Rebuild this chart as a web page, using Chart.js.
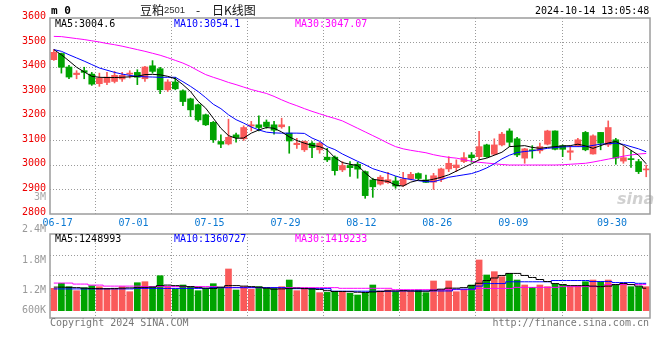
<!DOCTYPE html>
<html><head><meta charset="utf-8">
<script src="https://cdn.jsdelivr.net/npm/chart.js@4.4.1/dist/chart.umd.min.js"></script>
<style>
html,body{margin:0;padding:0;background:#fff;}
#wrap{position:relative;width:660px;height:360px;overflow:hidden;font-family:"DejaVu Sans Mono",monospace;}
canvas{position:absolute;left:0;}
#c1{top:0;}
#c2{top:222px;}
.t{position:absolute;white-space:nowrap;font-family:"DejaVu Sans Mono",monospace;font-size:10px;line-height:12px;}
</style></head><body>
<div id="wrap">
<canvas id="c1" width="660" height="232" style="width:660px;height:232px"></canvas>
<canvas id="c2" width="660" height="138" style="width:660px;height:138px"></canvas>
<div class="t" style="left:51px;top:5px;font-weight:bold;font-size:11px;">m 0</div>
<div class="t" style="left:140px;top:3px;font-family:'Noto Sans CJK SC';font-size:12px;line-height:14px;color:#111;">豆粕</div>
<div class="t" style="left:164px;top:4px;font-family:'Liberation Sans';font-size:9.5px;line-height:12px;color:#333;">2501</div>
<div class="t" style="left:196px;top:3px;font-family:'Noto Sans CJK SC';font-size:12px;line-height:14px;color:#111;">-</div>
<div class="t" style="left:212px;top:3px;font-family:'Noto Sans CJK SC';font-size:12px;line-height:14px;color:#111;">日K线图</div>
<div class="t" style="left:535px;top:5px;color:#000;">2024-10-14 13:05:48</div>
<div class="t" style="left:55px;top:18px;color:#000;">MA5:3004.6</div>
<div class="t" style="left:174px;top:18px;color:#0000ff;">MA10:3054.1</div>
<div class="t" style="left:295px;top:18px;color:#ff00ff;">MA30:3047.07</div>
<div class="t" style="left:55px;top:233px;color:#000;">MA5:1248993</div>
<div class="t" style="left:174px;top:233px;color:#0000ff;">MA10:1360727</div>
<div class="t" style="left:295px;top:233px;color:#ff00ff;">MA30:1419233</div>
<div class="t" style="left:50px;top:317px;color:#777;">Copyright 2024 SINA.COM</div>
<div class="t" style="right:11px;top:317px;color:#777;">http://finance.sina.com.cn</div>
<div class="t" style="left:617px;top:190px;font-family:'DejaVu Sans';font-weight:bold;font-style:italic;font-size:16px;line-height:18px;color:rgba(150,150,150,0.45);">sina</div>
</div>
<script>
const dates = ['06-14','06-17','06-18','06-19','06-20','06-21','06-24','06-25','06-26','06-27','06-28',
'07-01','07-02','07-03','07-04','07-05','07-08','07-09','07-10','07-11','07-12',
'07-15','07-16','07-17','07-18','07-19','07-22','07-23','07-24','07-25','07-26',
'07-29','07-30','07-31','08-01','08-02','08-05','08-06','08-07','08-08','08-09',
'08-12','08-13','08-14','08-15','08-16','08-19','08-20','08-21','08-22','08-23',
'08-26','08-27','08-28','08-29','08-30','09-02','09-03','09-04','09-05','09-06',
'09-09','09-10','09-11','09-12','09-13','09-18','09-19','09-20','09-23','09-24','09-25','09-26','09-27',
'09-30','10-08','10-09','10-10','10-11'];
const tickDates = ['06-17','07-01','07-15','07-29','08-12','08-26','09-09','09-30'];

const opens  = [3430,3455,3400,3369,3385,3371,3332,3337,3341,3351,3371,3378,3352,3405,3393,3307,3339,3303,3270,3246,
                3205,3174,3096,3086,3123,3107,3159,3164,3175,3164,3156,3130,3083,3062,3089,3062,3032,3032,2980,2998,
                3003,2973,2939,2922,2928,2935,2918,2943,2965,2939,2930,2943,2984,2989,3014,3041,3034,3082,3044,3082,
                3139,3107,3028,3062,3058,3085,3139,3079,3052,3079,3133,3045,3133,3082,3103,3016,3025,3014,2980];
const closes = [3460,3399,3359,3375,3378,3330,3355,3359,3366,3366,3375,3358,3400,3382,3307,3339,3311,3259,3225,3184,
                3164,3103,3085,3113,3112,3153,3164,3153,3157,3142,3164,3098,3089,3096,3071,3089,3021,2977,2998,2989,
                2983,2875,2911,2950,2940,2914,2943,2962,2945,2929,2956,2984,3007,3000,3030,3030,3075,3034,3082,3126,
                3093,3041,3066,3058,3075,3139,3064,3064,3058,3103,3062,3119,3089,3153,3028,3030,3022,2973,2983];
const highs  = [3471,3457,3407,3385,3399,3378,3375,3378,3382,3378,3385,3389,3403,3426,3399,3348,3358,3307,3273,3249,
                3208,3178,3123,3187,3130,3160,3178,3201,3184,3178,3191,3157,3109,3098,3096,3093,3068,3037,3014,3014,
                3011,2976,2946,2957,2970,2953,2970,2970,2968,2959,2966,2987,3034,3021,3051,3051,3137,3085,3107,3133,
                3148,3113,3068,3079,3089,3142,3139,3082,3079,3109,3137,3123,3133,3180,3109,3075,3058,3023,3000];
const lows   = [3427,3375,3352,3352,3352,3325,3321,3328,3335,3341,3355,3328,3341,3375,3291,3300,3307,3242,3198,3178,
                3161,3092,3071,3082,3093,3100,3139,3139,3150,3126,3150,3048,3068,3055,3030,3048,3014,2959,2973,2953,
                2946,2864,2868,2918,2925,2905,2913,2939,2940,2929,2900,2932,2973,2973,3010,3011,3021,3031,3041,3078,
                3075,3034,3007,3028,3048,3082,3062,3034,3021,3075,3058,3044,3062,3075,3003,3007,2990,2965,2952];

const ma5  = [3471,3450,3425,3399,3380,3362,3358,3357,3357,3358,3360,3362,3369,3370,3368,3362,3352,3328,3300,3260,
              3232,3191,3150,3120,3109,3110,3130,3143,3153,3150,3135,3115,3100,3089,3080,3075,3062,3030,3010,3003,
              2998,2968,2942,2937,2933,2918,2914,2930,2938,2936,2942,2950,2960,2975,2990,3005,3021,3028,3040,3052,
              3075,3077,3079,3072,3068,3072,3075,3078,3079,3085,3078,3068,3079,3090,3096,3080,3060,3040,3005];
const ma10 = [3471,3464,3450,3437,3424,3410,3396,3387,3378,3371,3366,3362,3360,3359,3358,3358,3358,3340,3321,3300,
              3275,3248,3230,3205,3185,3171,3155,3143,3134,3131,3130,3130,3130,3129,3110,3097,3075,3063,3045,3030,
              3015,3001,2985,2975,2966,2955,2946,2941,2936,2932,2932,2940,2950,2955,2960,2965,2975,2988,3005,3025,
              3040,3051,3055,3058,3063,3068,3071,3074,3075,3075,3075,3080,3085,3087,3089,3084,3075,3066,3054];
const ma30 = [3525,3524,3520,3516,3512,3507,3502,3496,3491,3485,3478,3471,3464,3456,3448,3438,3427,3416,3402,3385,
              3369,3358,3348,3337,3328,3318,3308,3300,3292,3280,3266,3253,3242,3230,3219,3209,3199,3190,3180,3165,
              3150,3135,3120,3105,3089,3075,3066,3060,3055,3050,3042,3036,3031,3028,3022,3015,3011,3008,3005,3002,
              3000,3000,3000,3000,3000,3000,3000,3001,3003,3005,3007,3012,3018,3024,3030,3036,3041,3045,3047];

const volumes = [1247000,1346000,1279000,1200000,1259000,1298000,1279000,1233000,1233000,1279000,
                 1180000,1357000,1377000,1279000,1495000,1279000,1233000,1312000,1279000,1200000,
                 1247000,1338000,1247000,1627000,1214000,1279000,1227000,1279000,1259000,1247000,
                 1279000,1410000,1200000,1247000,1247000,1161000,1167000,1187000,1180000,1148000,
                 1115000,1148000,1312000,1194000,1214000,1180000,1194000,1194000,1214000,1161000,
                 1391000,1214000,1391000,1180000,1214000,1312000,1804000,1509000,1574000,1475000,
                 1542000,1410000,1312000,1266000,1312000,1279000,1325000,1312000,1279000,1292000,
                 1377000,1410000,1377000,1410000,1312000,1346000,1279000,1279000,1279000];
const volMa5 = [1270000,1270000,1265000,1260000,1250000,1245000,1240000,1240000,1245000,1250000,
                1255000,1260000,1265000,1270000,1300000,1310000,1300000,1290000,1280000,1265000,
                1250000,1245000,1270000,1300000,1300000,1290000,1280000,1270000,1250000,1230000,
                1235000,1245000,1250000,1245000,1235000,1225000,1200000,1185000,1185000,1180000,
                1170000,1165000,1175000,1185000,1195000,1195000,1200000,1195000,1190000,1190000,
                1210000,1230000,1250000,1250000,1260000,1300000,1346000,1400000,1450000,1500000,
                1540000,1540000,1500000,1460000,1420000,1380000,1340000,1320000,1300000,1300000,
                1300000,1290000,1280000,1290000,1320000,1340000,1320000,1290000,1249000];
const volMa10 = [1235000,1235000,1235000,1235000,1235000,1235000,1235000,1235000,1235000,1235000,
                 1235000,1245000,1245000,1245000,1245000,1245000,1245000,1245000,1245000,1245000,
                 1245000,1260000,1260000,1260000,1260000,1260000,1260000,1260000,1260000,1260000,
                 1260000,1240000,1240000,1240000,1240000,1240000,1240000,1190000,1190000,1190000,
                 1190000,1190000,1190000,1190000,1190000,1190000,1195000,1195000,1195000,1195000,
                 1195000,1195000,1195000,1230000,1230000,1230000,1290000,1340000,1340000,1340000,
                 1375000,1375000,1375000,1375000,1375000,1375000,1400000,1400000,1400000,1400000,
                 1400000,1380000,1380000,1380000,1360000,1360000,1360000,1345000,1345000];
const volMa30 = [1350000,1350000,1350000,1330000,1330000,1310000,1310000,1290000,1290000,1290000,
                 1290000,1290000,1280000,1280000,1280000,1280000,1280000,1280000,1280000,1280000,
                 1280000,1280000,1260000,1260000,1260000,1260000,1260000,1260000,1260000,1260000,
                 1260000,1260000,1260000,1260000,1260000,1260000,1260000,1260000,1247000,1247000,
                 1247000,1247000,1247000,1247000,1247000,1220000,1220000,1220000,1220000,1220000,
                 1220000,1220000,1220000,1220000,1220000,1220000,1245000,1245000,1245000,1245000,
                 1245000,1265000,1265000,1265000,1265000,1265000,1265000,1280000,1280000,1280000,
                 1280000,1280000,1280000,1320000,1320000,1320000,1320000,1320000,1320000];

const priceTicks = [2800,2900,3000,3100,3200,3300,3400,3500,3600];
const priceMarkTick = {value: 2860, label: '3M'};
const volTickValues = [2400000,1800000,1200000,807000];
const volTickLabels = ['2.4M','1.8M','1.2M','600K'];
const volGridValues = [1902000,1508000,1115000];
const volBase = 807000;

const RED = '#fa5a5a', GREEN = '#00a300', GRIDC = '#9a9a9a';
const MONO = {family: 'DejaVu Sans Mono', size: 10};
const up = opens.map((o, i) => closes[i] >= o);
const candleColors = up.map(u => u ? RED : GREEN);
const xs = dates.map((d, i) => i + 0.5);
const pts = arr => arr.map((v, i) => ({x: xs[i], y: v}));

const frame = {
  id: 'frame',
  afterDraw(chart) {
    const {ctx, chartArea: a} = chart;
    ctx.save();
    ctx.strokeStyle = '#9c9c9c';
    ctx.lineWidth = 1.5;
    ctx.strokeRect(a.left, a.top, a.right - a.left, a.bottom - a.top);
    ctx.restore();
  }
};

function xScale(showLabels) {
  return {
    type: 'linear', min: 0, max: dates.length, offset: false,
    afterBuildTicks: s => { s.ticks = tickDates.map(d => ({value: dates.indexOf(d)})); },
    afterFit: s => { s.height = showLabels ? 18 : 0; },
    ticks: {display: showLabels, autoSkip: false, maxRotation: 0, padding: 3, color: '#0a78d2', font: MONO,
            callback: v => dates[v]},
    grid: {color: GRIDC, lineWidth: 1, drawTicks: false},
    border: {display: false, dash: [1, 2]}
  };
}

new Chart(document.getElementById('c1'), {
  type: 'bar',
  data: {datasets: [
    {type: 'line', label: 'MA5', data: pts(ma5), borderColor: '#000', borderWidth: 1, pointRadius: 0, order: 1},
    {type: 'line', label: 'MA10', data: pts(ma10), borderColor: '#0000ff', borderWidth: 1, pointRadius: 0, order: 2},
    {type: 'line', label: 'MA30', data: pts(ma30), borderColor: '#ff00ff', borderWidth: 1, pointRadius: 0, order: 3},
    {label: 'body', data: opens.map((o, i) => ({x: xs[i], y: [o, closes[i]]})), backgroundColor: candleColors,
     barThickness: 6, minBarLength: 1, grouped: false, order: 5},
    {label: 'wick', data: lows.map((l, i) => ({x: xs[i], y: [l, highs[i]]})), backgroundColor: candleColors,
     barThickness: 1, grouped: false, order: 6}
  ]},
  options: {
    responsive: false, animation: false,
    layout: {padding: {top: 18, right: 10, left: 0, bottom: 0}},
    plugins: {legend: {display: false}, tooltip: {enabled: false}},
    scales: {
      x: xScale(true),
      y: {
        type: 'linear', min: 2800, max: 3600,
        afterBuildTicks: s => { s.ticks = priceTicks.map(v => ({value: v})).concat([{value: priceMarkTick.value}]); },
        afterFit: s => { s.width = 50; },
        ticks: {padding: 4, labelOffset: -1.5, font: MONO,
                color: c => c.tick && c.tick.value === priceMarkTick.value ? '#a8a8a8' : '#ee0000',
                callback: v => v === priceMarkTick.value ? priceMarkTick.label : String(v)},
        grid: {drawTicks: false, lineWidth: 1,
               color: c => (c.tick && (c.tick.value === 2800 || c.tick.value === 3600 || c.tick.value === priceMarkTick.value)) ? 'rgba(0,0,0,0)' : GRIDC},
        border: {display: false, dash: [1, 2]}
      }
    }
  },
  plugins: [frame]
});

new Chart(document.getElementById('c2'), {
  type: 'bar',
  data: {datasets: [
    {type: 'line', label: 'VMA5', data: pts(volMa5), borderColor: '#000', borderWidth: 1, pointRadius: 0, stepped: 'middle', order: 1},
    {type: 'line', label: 'VMA10', data: pts(volMa10), borderColor: '#0000ff', borderWidth: 1, pointRadius: 0, stepped: 'middle', order: 2},
    {type: 'line', label: 'VMA30', data: pts(volMa30), borderColor: '#ff00ff', borderWidth: 1, pointRadius: 0, stepped: 'middle', order: 3},
    {label: 'vol', data: volumes.map((v, i) => ({x: xs[i], y: [volBase, v]})), backgroundColor: candleColors,
     barThickness: 6, grouped: false, order: 5}
  ]},
  options: {
    responsive: false, animation: false,
    layout: {padding: {top: 12, right: 10, left: 0, bottom: 42}},
    plugins: {legend: {display: false}, tooltip: {enabled: false}},
    scales: {
      x: xScale(false),
      y: {
        type: 'linear', min: 663000, max: 2315000, position: 'left',
        afterBuildTicks: s => { s.ticks = volTickValues.map(v => ({value: v})); },
        afterFit: s => { s.width = 50; },
        ticks: {padding: 4, font: MONO, color: '#999',
                callback: v => volTickLabels[volTickValues.indexOf(v)]},
        grid: {display: false, drawTicks: false},
        border: {display: false}
      },
      yg: {
        type: 'linear', min: 663000, max: 2315000, position: 'left',
        afterBuildTicks: s => { s.ticks = volGridValues.map(v => ({value: v})); },
        afterFit: s => { s.width = 0; },
        ticks: {display: false},
        grid: {drawTicks: false, color: GRIDC, lineWidth: 1},
        border: {display: false, dash: [1, 2]}
      }
    }
  },
  plugins: [frame]
});
</script>
</body></html>
